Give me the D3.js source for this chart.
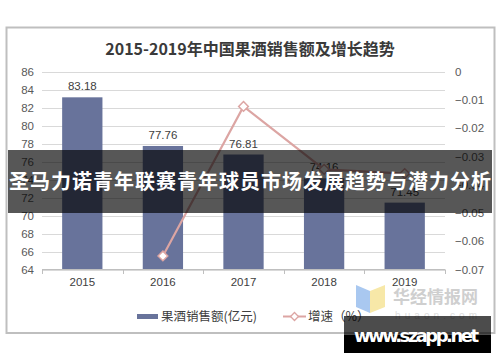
<!DOCTYPE html>
<html>
<head>
<meta charset="utf-8">
<script src="https://cdn.jsdelivr.net/npm/d3@7.9.0/dist/d3.min.js"></script>
<style>
  body { margin: 0; background: #fff; }
  svg { display: block; font-family: "Liberation Sans", Arial, sans-serif; }
</style>
</head>
<body>
<svg width="500" height="362"></svg>
<script>
const years = ['2015', '2016', '2017', '2018', '2019'];
const sales = [83.18, 77.76, 76.81, 74.16, 71.45];
const growth = [null, -0.0652, -0.0122, -0.0345, -0.036];
const leftTicks = [64, 66, 68, 70, 72, 74, 76, 78, 80, 82, 84, 86];
const rightTicks = [0, -0.01, -0.02, -0.03, -0.04, -0.05, -0.06, -0.07];

const svg = d3.select('svg');
const cjk = '"Noto Sans CJK SC", sans-serif';

// frame
svg.append('rect')
    .attr('x', 6.5).attr('y', 27.5).attr('width', 488).attr('height', 305.5)
    .attr('fill', '#fff').attr('stroke', '#bfbfbf').attr('stroke-width', 2);

svg.append('text')
    .attr('x', 250).attr('y', 55)
    .attr('text-anchor', 'middle')
    .attr('font-family', cjk).attr('font-weight', 'bold')
    .attr('font-size', 16).attr('fill', '#3a3a3a')
    .text('2015-2019年中国果酒销售额及增长趋势');

const x = d3.scaleBand().domain(years).range([42, 445]).paddingInner(0.5).paddingOuter(0.25);
const y = d3.scaleLinear().domain([64, 86]).range([269.5, 72]);
const y2 = d3.scaleLinear().domain([-0.07, 0]).range([269.5, 72]);

// gridlines
svg.append('g').selectAll('line').data(leftTicks).join('line')
    .attr('x1', 42).attr('x2', 445)
    .attr('y1', d => Math.round(y(d)) + 0.5).attr('y2', d => Math.round(y(d)) + 0.5)
    .attr('stroke', '#d9d9d9');

// left axis labels
svg.append('g').selectAll('text').data(leftTicks).join('text')
    .attr('x', 34).attr('y', d => y(d) + 4)
    .attr('text-anchor', 'end').attr('font-size', 11.5).attr('fill', '#595959')
    .text(d => d);

// right axis labels
svg.append('g').selectAll('text').data(rightTicks).join('text')
    .attr('x', 455).attr('y', d => y2(d) + 4)
    .attr('font-size', 11.5).attr('fill', '#595959')
    .text(d => d === 0 ? '0' : d3.format('.2f')(d));

// bars
svg.append('g').selectAll('rect').data(sales).join('rect')
    .attr('x', (d, i) => x(years[i]))
    .attr('width', x.bandwidth())
    .attr('y', d => y(d))
    .attr('height', d => y(64) - y(d))
    .attr('fill', '#68739b');

svg.append('g').selectAll('text').data(sales).join('text')
    .attr('x', (d, i) => x(years[i]) + x.bandwidth() / 2)
    .attr('y', d => y(d) - 7)
    .attr('text-anchor', 'middle').attr('font-size', 11.5).attr('fill', '#404040')
    .text(d => d.toFixed(2));

// x axis
const xAxis = svg.append('g');
xAxis.append('line').attr('x1', 42).attr('x2', 445).attr('y1', 269.5).attr('y2', 269.5)
    .attr('stroke', '#bfbfbf');
const bounds = [42].concat(years.map(d => x(d) + x.bandwidth() / 2 + x.step() / 2));
xAxis.selectAll('.tk').data(bounds).join('line')
    .attr('x1', d => Math.round(d) + 0.5).attr('x2', d => Math.round(d) + 0.5)
    .attr('y1', 269.5).attr('y2', 274)
    .attr('stroke', '#bfbfbf');
xAxis.selectAll('text').data(years).join('text')
    .attr('x', d => x(d) + x.bandwidth() / 2).attr('y', 286)
    .attr('text-anchor', 'middle').attr('font-size', 11.5).attr('fill', '#404040')
    .text(d => d);

// growth line
const pts = growth.map((g, i) => ({ year: years[i], g })).filter(d => d.g !== null);
const cx = d => x(d.year) + x.bandwidth() / 2;
svg.append('path')
    .datum(pts)
    .attr('d', d3.line().x(cx).y(d => y2(d.g)))
    .attr('fill', 'none').attr('stroke', '#dca5a3').attr('stroke-width', 2.2);
svg.append('g').selectAll('path').data(pts).join('path')
    .attr('d', d3.symbol(d3.symbolDiamond2, 60))
    .attr('transform', d => `translate(${cx(d)},${y2(d.g)})`)
    .attr('fill', '#fff').attr('stroke', '#dca5a3').attr('stroke-width', 1.5);

// legend
const lg = svg.append('g');
lg.append('rect').attr('x', 137).attr('y', 314).attr('width', 21).attr('height', 5).attr('fill', '#68739b');
lg.append('text').attr('x', 161).attr('y', 321).attr('font-family', cjk)
    .attr('font-size', 12.5).attr('fill', '#404040').text('果酒销售额(亿元)');
lg.append('line').attr('x1', 283).attr('x2', 306).attr('y1', 316.5).attr('y2', 316.5)
    .attr('stroke', '#dca5a3').attr('stroke-width', 2);
lg.append('path').attr('d', d3.symbol(d3.symbolDiamond2, 40))
    .attr('transform', 'translate(294.5,316.5)')
    .attr('fill', '#fff').attr('stroke', '#dca5a3').attr('stroke-width', 1.3);
lg.append('text').attr('x', 308).attr('y', 321).attr('font-family', cjk)
    .attr('font-size', 12.5).attr('fill', '#404040').text('增速（%）');

// huajing watermark
const wm = svg.append('g');
wm.append('path').attr('d', 'M356,285 L370,291 L370,313 L356,307 Z').attr('fill', '#a9c8f0');
wm.append('path').attr('d', 'M370,291 L385,285 L385,307 L370,313 Z').attr('fill', '#f7e8a8');
wm.append('text').attr('x', 393).attr('y', 303).attr('font-family', cjk).attr('font-weight', 'bold')
    .attr('font-size', 17).attr('fill', '#cfcfcf').attr('textLength', 85).text('华经情报网');
wm.append('text').attr('x', 395).attr('y', 319).attr('font-size', 10)
    .attr('fill', '#dedede').attr('textLength', 82).text('huaon.com');

// banner overlay
svg.append('rect').attr('x', 8).attr('y', 150).attr('width', 484).attr('height', 63)
    .attr('fill', '#000').attr('opacity', 0.66);
svg.append('text').attr('x', 250).attr('y', 189)
    .attr('text-anchor', 'middle').attr('font-family', cjk).attr('font-weight', 'bold')
    .attr('font-size', 20).attr('fill', '#fff').attr('textLength', 482)
    .text('圣马力诺青年联赛青年球员市场发展趋势与潜力分析');

// szapp box
svg.append('rect').attr('x', 344).attr('y', 316).attr('width', 147).attr('height', 19)
    .attr('fill', '#000').attr('opacity', 0.7);
svg.append('rect').attr('x', 344).attr('y', 335).attr('width', 147).attr('height', 18)
    .attr('fill', '#000');
svg.append('text').attr('x', 354).attr('y', 342)
    .attr('font-family', '"DejaVu Sans", sans-serif').attr('font-weight', 'bold')
    .attr('font-size', 18).attr('fill', '#fff').attr('textLength', 125)
    .text('www.szapp.net');
</script>
</body>
</html>
